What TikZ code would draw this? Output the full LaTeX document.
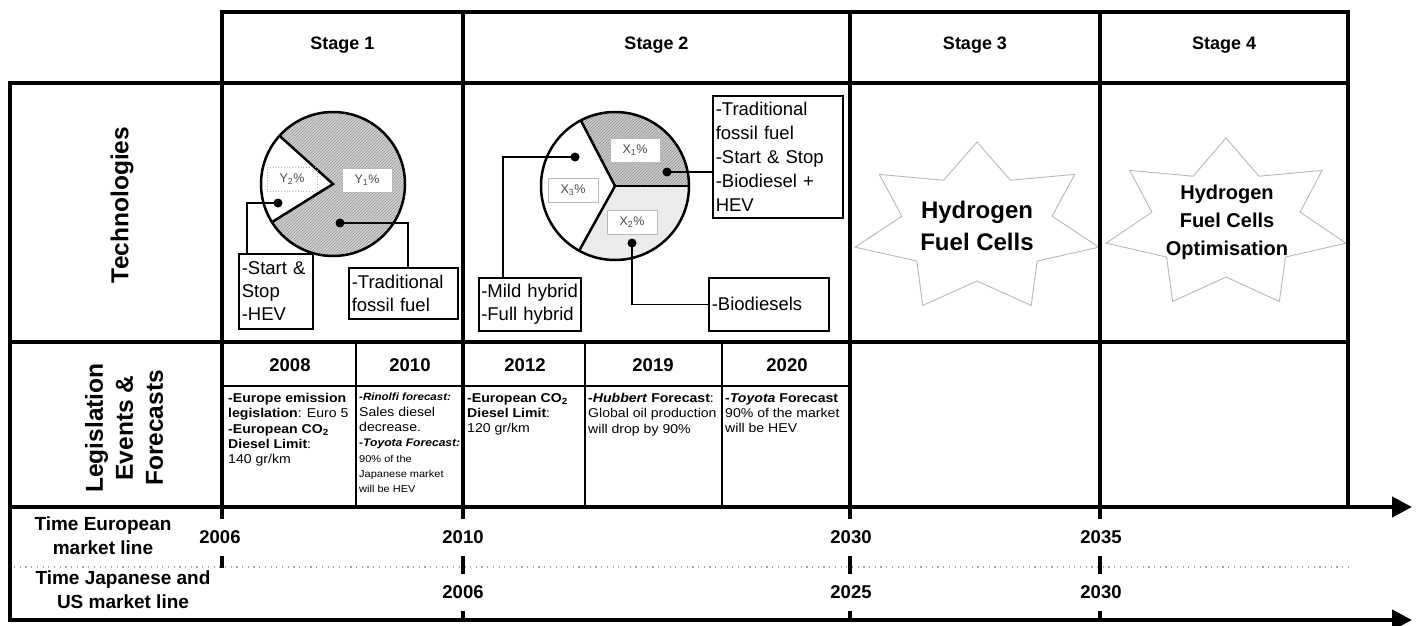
\documentclass[tikz,border=0pt]{standalone}
\usepackage{fontspec}
\setmainfont{Liberation Sans}
\newfontfamily\widefont[FakeStretch=1.1]{Liberation Sans}
\usetikzlibrary{arrows.meta,patterns,calc}
\begin{document}
\begin{tikzpicture}[x=1pt,y=-1pt,
  gridline/.style={line width=4.5pt, line cap=rect},
  thinline/.style={line width=1.2pt},
  tickmark/.style={line width=4pt},
  timearrow/.style={line width=4.5pt, -{Triangle[length=20pt,width=20pt]}},
  tbox/.style={draw, line width=1.5pt, align=left, anchor=north west, inner xsep=3pt, inner ysep=2pt, font=\fontsize{18.5}{23}\selectfont},
  conn/.style={line width=1.5pt},
  pct/.style={draw=gray!55, line width=0.8pt, fill=white, minimum width=50pt, minimum height=24pt, inner sep=0pt, font=\fontsize{12.5}{14}\selectfont, text=black!70},
  headtext/.style={font=\bfseries\fontsize{18}{22}\selectfont},
  yeartext/.style={font=\bfseries\fontsize{18.5}{22}\selectfont},
  legtext/.style={anchor=north west, inner sep=0pt, align=left, font=\widefont\fontsize{12.8}{15.3}\selectfont},
  sidetext/.style={font=\bfseries\fontsize{24.5}{30}\selectfont, align=center, rotate=90},
  timetext/.style={font=\bfseries\fontsize{19}{24}\selectfont, align=center},
  starline/.style={draw=gray!55, line width=0.9pt},
  dotline/.style={gray!70, line width=1.2pt, dash pattern=on 1.2pt off 4.5pt}
]
\useasboundingbox (0,0) rectangle (1418,626);
\fill[white] (0,0) rectangle (1418,626);

% ---------- Pie stage 1 ----------
\coordinate (p1) at (333,184);
\fill[gray!35] (p1) circle[radius=72];
\fill[pattern=north east lines, pattern color=gray!80] (p1) circle[radius=72];
\fill[white] (p1) -- ++(-138:72) arc[start angle=-138, end angle=-212, radius=72] -- cycle;
\draw[line width=2.5pt] (p1) circle[radius=72];
\draw[line width=2.5pt, line join=miter] ([shift={(-138:72)}]p1) -- (p1) -- ([shift={(-212:72)}]p1);
\node[pct, draw=gray!60, dotted, fill=none] (y2) at (292,179) {Y\textsubscript{2}\%};
\node[pct] (y1) at (367,180) {Y\textsubscript{1}\%};
\coordinate (d1) at (278,203);
\coordinate (d2) at (340,223);
\fill (d1) circle[radius=4.5];
\fill (d2) circle[radius=4.5];
\node[tbox, text width=68pt, minimum height=75pt] (b1) at (238,253) {\mbox{-Start \&}\\Stop\\-HEV};
\node[tbox, text width=103pt, minimum height=51pt] (b2) at (348,267) {\mbox{-Traditional}\\\mbox{fossil fuel}};
\draw[conn] (d1) -| ([xshift=9pt]b1.north west);
\draw[conn] (d2) -| ([xshift=60pt]b2.north west);

% ---------- Pie stage 2 ----------
\coordinate (p2) at (615,186);
\fill[gray!40] (p2) -- ++(0:74) arc[start angle=0, end angle=-117.5, radius=74] -- cycle;
\fill[pattern=north east lines, pattern color=gray!85] (p2) -- ++(0:74) arc[start angle=0, end angle=-117.5, radius=74] -- cycle;
\fill[gray!16] (p2) -- ++(-241:74) arc[start angle=-241, end angle=-360, radius=74] -- cycle;
\draw[line width=2.5pt] (p2) circle[radius=74];
\draw[line width=2.5pt] (p2) -- ([shift={(0:74)}]p2);
\draw[line width=2.5pt] (p2) -- ([shift={(-117.5:74)}]p2);
\draw[line width=2.5pt] (p2) -- ([shift={(-241:74)}]p2);
\node[pct] (x1) at (635,150) {X\textsubscript{1}\%};
\node[pct] (x3) at (573,190) {X\textsubscript{3}\%};
\node[pct] (x2) at (632,222) {X\textsubscript{2}\%};
\coordinate (d3) at (667,172);
\coordinate (d4) at (575,157);
\coordinate (d5) at (632,243);
\fill (d3) circle[radius=4.5];
\fill (d4) circle[radius=4.5];
\fill (d5) circle[radius=4.5];
\node[tbox, text width=124pt, minimum height=122pt, font=\fontsize{18.5}{24}\selectfont] (b3) at (712,95) {\mbox{-Traditional}\\\mbox{fossil fuel}\\\mbox{-Start \& Stop}\\\mbox{-Biodiesel +}\\HEV};
\node[tbox, text width=97pt, inner xsep=2.5pt, minimum height=53pt] (b4) at (478,277) {\mbox{-Mild hybrid}\\\mbox{-Full hybrid}};
\node[tbox, text width=114pt, minimum height=53pt] (b5) at (708,277) {-Biodiesels};
\draw[conn] (d3) -- (d3 -| b3.west);
\draw[conn] (d4) -| ([xshift=25pt]b4.north west);
\draw[conn] (d5) |- (b5.west);

% ---------- Stars ----------
\begin{scope}[shift={(977,228)}]
\draw[starline] (-90:125 and 86) \foreach \k in {1,...,7} { -- ({-90-(\k-0.5)*51.4286}:77 and 53) -- ({-90-\k*51.4286}:125 and 86) } -- cycle;
\end{scope}
\node[font=\bfseries\fontsize{24}{32}\selectfont, align=center] (h3) at (977,226) {Hydrogen\\Fuel Cells};
\begin{scope}[shift={(1226,224)}]
\draw[starline] (-90:123 and 86) \foreach \k in {1,...,7} { -- ({-90-(\k-0.5)*51.4286}:76 and 53) -- ({-90-\k*51.4286}:123 and 86) } -- cycle;
\end{scope}
\node[font=\bfseries\fontsize{20}{28}\selectfont, align=center] (h4) at (1227,222) {Hydrogen\\Fuel Cells\\Optimisation};

% ---------- Grid ----------
\draw[gridline] (222,12) -- (1348,12);
\draw[gridline] (10,83) -- (1348,83);
\draw[gridline] (10,342) -- (1348,342);
\draw[gridline] (10,83) -- (10,620);
\foreach \xx in {222,463,850,1100,1348} { \draw[gridline] (\xx,12) -- (\xx,507); }
\draw[thinline] (222,386) -- (850,386);
\foreach \xx in {356,585,722} { \draw[thinline] (\xx,342) -- (\xx,507); }

% ---------- Time arrows ----------
\coordinate (a1s) at (8,507);
\coordinate (a1e) at (1412,507);
\coordinate (a2s) at (8,620);
\coordinate (a2e) at (1412,620);
\draw[timearrow] (a1s) -- (a1e);
\draw[timearrow] (a2s) -- (a2e);
\coordinate (dl1) at (14,567);
\coordinate (dl2) at (1350,567);
\draw[dotline] (dl1) -- (dl2);
\foreach \xx in {222,463,850,1100} { \draw[tickmark] (\xx,507) -- (\xx,519); }
\draw[tickmark] (222,556) -- (222,568);
\foreach \xx in {463,850,1100} {
  \draw[tickmark] (\xx,556) -- (\xx,574);
  \draw[tickmark] (\xx,611) -- (\xx,620);
}

% ---------- Headers ----------
\node[headtext] (s1) at (342.5,45) {Stage 1};
\node[headtext] (s2) at (656.5,45) {Stage 2};
\node[headtext] (s3) at (975,45) {Stage 3};
\node[headtext] (s4) at (1224,45) {Stage 4};
\node[sidetext] (tech) at (122,205) {Technologies};
\node[sidetext] (legis) at (124,428) {Legislation\\Events \&\\Forecasts};
\node[timetext] (teu) at (103,536) {Time European\\market line};
\node[timetext] (tjp) at (123,590) {Time Japanese and\\US market line};

% ---------- Years ----------
\node[yeartext] (y2008) at (290,365) {2008};
\node[yeartext] (y2010) at (410,365) {2010};
\node[yeartext] (y2012) at (525,365) {2012};
\node[yeartext] (y2019) at (653,365) {2019};
\node[yeartext] (y2020) at (787,365) {2020};

\node[yeartext] (e2006) at (220,537) {2006};
\node[yeartext] (e2010) at (463,537) {2010};
\node[yeartext] (e2030) at (851,537) {2030};
\node[yeartext] (e2035) at (1101,537) {2035};
\node[yeartext] (j2006) at (463,592) {2006};
\node[yeartext] (j2025) at (851,592) {2025};
\node[yeartext] (j2030) at (1101,592) {2030};

% ---------- Legislation texts ----------
\node[legtext] (t2008) at (228,393) {\textbf{-Europe emission}\\\textbf{legislation}: Euro 5\\\textbf{-European CO\textsubscript{2}}\\\textbf{Diesel Limit}:\\140 gr/km};
\node[legtext] (t2010) at (359,393) {{\fontsize{10.5}{15.3}\selectfont\bfseries\itshape -Rinolfi forecast:}\\Sales diesel\\decrease.\\{\fontsize{11}{15.3}\selectfont\bfseries\itshape -Toyota Forecast:}\\{\fontsize{10}{15.3}\selectfont 90\% of the}\\{\fontsize{10}{15.3}\selectfont Japanese market}\\{\fontsize{10}{15.3}\selectfont will be HEV}};
\node[legtext] (t2012) at (467,393) {\textbf{-European CO\textsubscript{2}}\\\textbf{Diesel Limit}:\\120 gr/km};
\node[legtext] (t2019) at (588,393) {\textbf{-\textit{Hubbert} Forecast}:\\Global oil production\\will drop by 90\%};
\node[legtext] (t2020) at (725,393) {\textbf{-\textit{Toyota} Forecast}\\90\% of the market\\will be HEV};
\end{tikzpicture}
\end{document}
